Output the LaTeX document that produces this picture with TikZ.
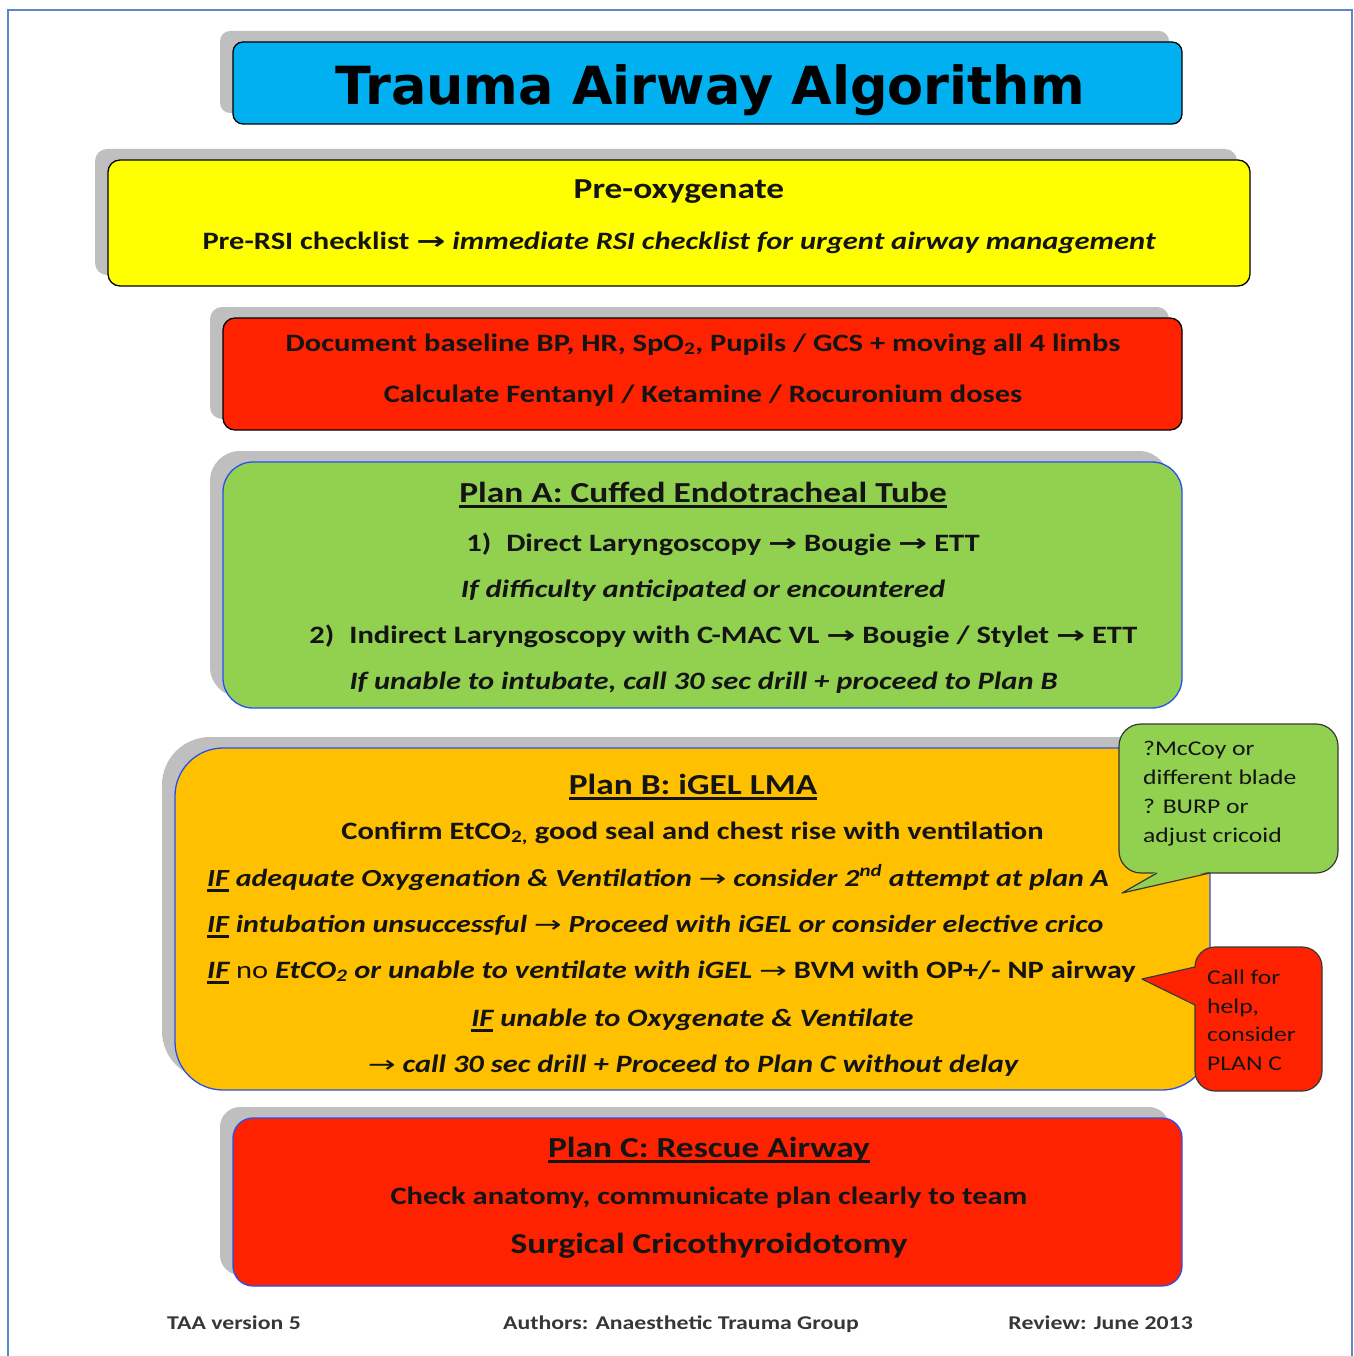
\documentclass[tikz,border=0pt]{standalone}
\usepackage{fontspec}
\setmainfont{Carlito}[FakeStretch=1.22]
\newfontfamily\titlefont{DejaVu Sans}
\newfontfamily\arrfont{DejaVu Sans}[FakeStretch=1.45]
\usetikzlibrary{shadows}
\definecolor{ttlblue}{RGB}{0,176,240}
\definecolor{yel}{RGB}{255,255,0}
\definecolor{redbox}{RGB}{255,34,0}
\definecolor{grn}{RGB}{146,208,80}
\definecolor{orng}{RGB}{255,192,0}
\definecolor{shd}{RGB}{191,191,191}
\definecolor{bordblue}{RGB}{40,80,240}
\definecolor{frame}{RGB}{91,135,197}
\definecolor{ink}{RGB}{20,20,20}
\newcommand\myul[1]{\setbox0\hbox{#1}\rlap{\rule[-6pt]{\wd0}{2.6pt}}\box0{}}
\newcommand\barr{{\arrfont\bfseries\upshape\fontsize{24}{24}\selectfont\char"2192}}
\newcommand\tarr{{\arrfont\mdseries\upshape\fontsize{23}{23}\selectfont\char"2192}}
\begin{document}
\begin{tikzpicture}[x=1pt,y=-1pt,
  panel/.style={draw, line width=1.3pt, inner sep=0pt,
    drop shadow={shadow xshift=-13pt, shadow yshift=11pt, fill=shd, opacity=1}},
  txt/.style={inner sep=0pt, anchor=base, text=ink, font=\fontsize{25}{30}\selectfont\bfseries},
  tighttxt/.style={txt, font=\fontsize{24.6}{30}\selectfont\bfseries},
  head/.style={txt, font=\fontsize{29}{34}\selectfont\bfseries},
  smalltxt/.style={inner sep=0pt, anchor=base west, text=ink, font=\fontsize{21}{26}\selectfont},
  foot/.style={inner sep=0pt, anchor=base, text=ink!85, font=\fontsize{19.5}{22}\selectfont\bfseries},
  callout/.style={draw=ink!85, line width=1.2pt, inner sep=0pt}
]
\useasboundingbox (0,0) rectangle (1353,1356);
% outer frame
\draw[frame, line width=1.5pt] (8,1356) -- (8,10) -- (1352,10) -- (1352,1356);

% panels
\node[panel, fill=ttlblue, rounded corners=10pt, minimum width=949pt, minimum height=82pt] (title) at (707.5,83) {};
\node[panel, fill=yel, rounded corners=12pt, minimum width=1142pt, minimum height=126pt] (pre) at (679,223) {};
\node[panel, fill=redbox, rounded corners=12pt, minimum width=959pt, minimum height=112pt] (doc) at (702.5,374) {};
\node[panel, draw=bordblue, fill=grn, rounded corners=30pt, minimum width=959pt, minimum height=246pt] (planA) at (702.5,585) {};
\node[panel, draw=bordblue, fill=orng, rounded corners=48pt, minimum width=1035pt, minimum height=342pt] (planB) at (692.5,919) {};
\node[panel, draw=bordblue, fill=redbox, rounded corners=20pt, minimum width=949pt, minimum height=168pt] (planC) at (707.5,1202) {};

% title
\node[inner sep=0pt, anchor=base, font=\titlefont\bfseries\fontsize{52.5}{60}\selectfont] (ttl) at (710,105) {Trauma Airway Algorithm};

% pre-oxygenate
\node[head] (p1) at (679,199) {Pre-oxygenate};
\node[txt] (p2) at (679,250) {Pre-RSI checklist \barr{} \itshape immediate RSI checklist for urgent airway management};

% document
\node[txt] (d1) at (703,351) {Document baseline BP, HR, SpO\textsubscript{2}, Pupils / GCS + moving all 4 limbs};
\node[txt] (d2) at (703,402) {Calculate Fentanyl / Ketamine / Rocuronium doses};

% plan A
\node[head] (a0) at (703,502) {\myul{Plan A: Cuffed Endotracheal Tube}};
\node[txt] (a1) at (723,551) {1)\hspace{0.6em}Direct Laryngoscopy \barr{} Bougie \barr{} ETT};
\node[txt] (a2) at (703,597) {\itshape If difficulty anticipated or encountered};
\node[txt] (a3) at (723.5,643) {2)\hspace{0.6em}Indirect Laryngoscopy with C-MAC VL \barr{} Bougie / Stylet \barr{} ETT};
\node[txt] (a4) at (703.5,689) {\itshape If unable to intubate, call 30 sec drill + proceed to Plan B};

% plan B
\node[head] (b0) at (693,794) {\myul{Plan B: iGEL LMA}};
\node[txt] (b1) at (692.5,839) {Confirm EtCO\textsubscript{2,} good seal and chest rise with ventilation};
\node[tighttxt, anchor=base west] (b2) at (207,886) {\itshape\myul{IF} adequate Oxygenation \& Ventilation \tarr{} consider 2\textsuperscript{nd} attempt at plan A};
\node[tighttxt, anchor=base west] (b3) at (207,932) {\itshape\myul{IF} intubation unsuccessful \tarr{} Proceed with iGEL or consider elective crico};
\node[txt, anchor=base west] (b4) at (207,978) {\myul{\itshape IF} {\mdseries no} {\itshape EtCO\textsubscript{2} or unable to ventilate with iGEL} \tarr{} BVM with OP+/- NP airway};
\node[txt] (b5) at (692.5,1026) {\itshape\myul{IF} unable to Oxygenate \& Ventilate};
\node[txt] (b6) at (693,1072) {\itshape\tarr{} call 30 sec drill + Proceed to Plan C without delay};

% plan C
\node[head] (c0) at (709,1157) {\myul{Plan C: Rescue Airway}};
\node[txt] (c1) at (709,1204) {Check anatomy, communicate plan clearly to team};
\node[head] (c2) at (709,1253) {Surgical Cricothyroidotomy};

% green callout
\node[callout, fill=grn, rounded corners=22pt, minimum width=219pt, minimum height=149pt] (cg) at (1228.5,798.5) {};
\fill[grn] (1157,871.3) -- (1122,893) -- (1210,871.3) -- cycle;
\draw[draw=ink!85, line width=1.2pt, line join=round] (1157,873) -- (1122,893) -- (1210,873);
\node[smalltxt] (g1) at (1143,755) {?McCoy or};
\node[smalltxt] (g2) at (1143,784) {different blade};
\node[smalltxt] (g3) at (1143,813) {? BURP or};
\node[smalltxt] (g4) at (1143,842) {adjust cricoid};

% red callout
\node[callout, fill=redbox, rounded corners=20pt, minimum width=127pt, minimum height=144pt] (cr) at (1258.5,1019) {};
\fill[redbox] (1196.7,967) -- (1142,979) -- (1196.7,1005) -- cycle;
\draw[draw=ink!85, line width=1.2pt, line join=round] (1195,967) -- (1142,979) -- (1195,1005);
\node[smalltxt] (r1) at (1207,984) {Call for};
\node[smalltxt] (r2) at (1207,1013) {help,};
\node[smalltxt] (r3) at (1207,1041) {consider};
\node[smalltxt] (r4) at (1207,1070) {PLAN C};

% footer
\node[foot, anchor=base west] (f1) at (167,1329) {TAA version 5};
\node[foot] (f2) at (681,1329) {Authors: Anaesthetic Trauma Group};
\node[foot, anchor=base east] (f3) at (1193,1329) {Review: June 2013};
\end{tikzpicture}
\end{document}
